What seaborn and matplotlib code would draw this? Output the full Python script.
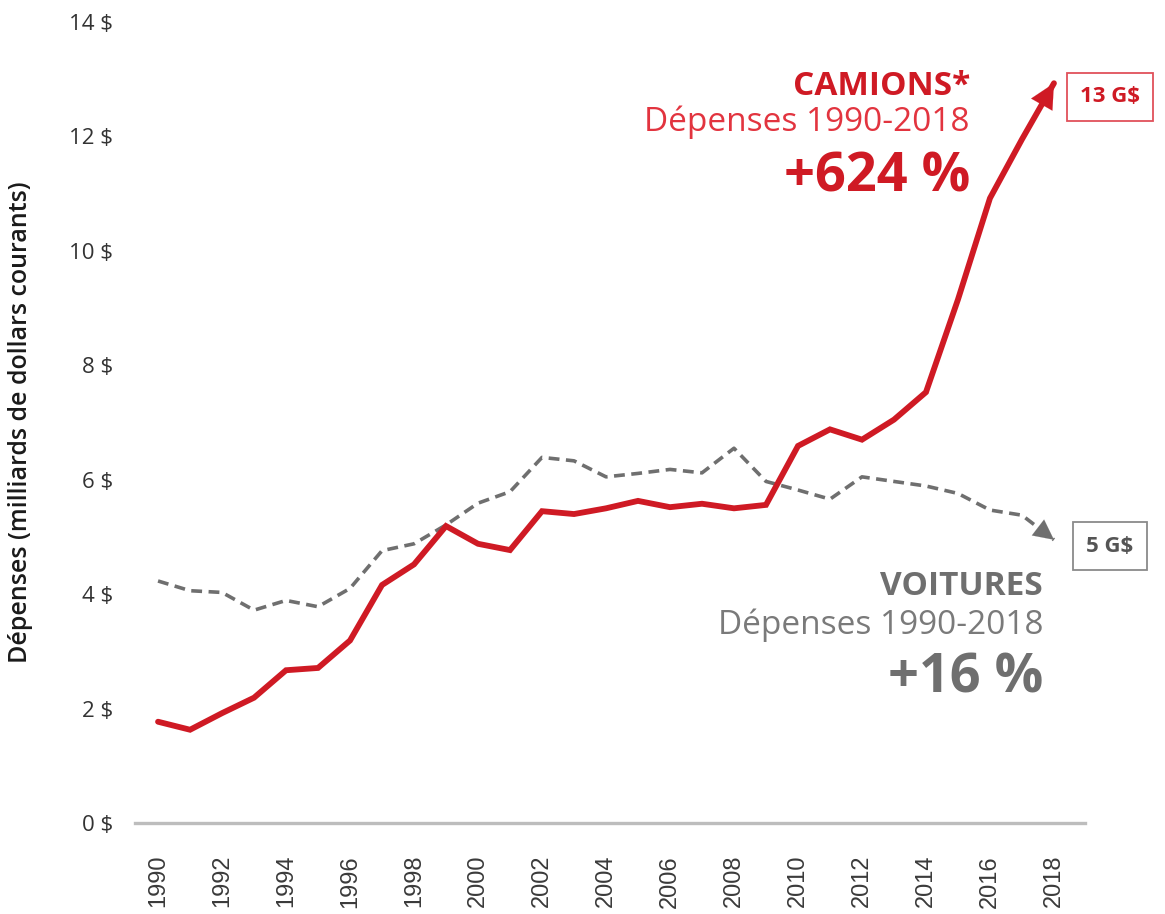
import matplotlib
matplotlib.use("Agg")
import matplotlib.pyplot as plt
import seaborn as sns

# Dépenses annuelles (milliards de dollars courants)
years = list(range(1990, 2019))
camions = [1.77, 1.63, 1.92, 2.19, 2.67, 2.71, 3.19, 4.16, 4.52, 5.19,
           4.88, 4.77, 5.45, 5.40, 5.50, 5.63, 5.52, 5.58, 5.50, 5.56,
           6.59, 6.88, 6.70, 7.05, 7.53, 9.15, 10.92, 11.95, 12.93]
voitures = [4.23, 4.06, 4.03, 3.72, 3.89, 3.78, 4.10, 4.76, 4.88, 5.21,
            5.59, 5.79, 6.39, 6.33, 6.05, 6.11, 6.18, 6.12, 6.55, 5.97,
            5.82, 5.66, 6.05, 5.97, 5.89, 5.76, 5.47, 5.38, 4.95]
y_ticks = [0, 2, 4, 6, 8, 10, 12, 14]
y_tick_labels = [f"{v} $" for v in y_ticks]
x_ticks = list(range(1990, 2019, 2))

RED = "#cf1a24"
RED_LIGHT = "#e2343f"
GREY = "#6f6f6f"

sns.set_style("white")
plt.rcParams["font.family"] = ["Open Sans", "DejaVu Sans"]

fig = plt.figure(figsize=(11.65, 9.14), dpi=100)
ax = fig.add_axes([135 / 1165, 91 / 914, 950 / 1165, 801 / 914])

sns.lineplot(x=years, y=voitures, ax=ax, color=GREY, linewidth=2.6,
             linestyle=(0, (3.0, 1.8)))
sns.lineplot(x=years, y=camions, ax=ax, color=RED, linewidth=4.2,
             solid_joinstyle="miter")

# arrowheads at the last point of each series
def end_arrow(vals, color, scale):
    f = 0.35
    x0 = years[-1] - f * (years[-1] - years[-2])
    y0 = vals[-1] - f * (vals[-1] - vals[-2])
    ax.annotate("", xy=(years[-1], vals[-1]), xytext=(x0, y0),
                arrowprops=dict(arrowstyle="-|>", color=color, lw=0.1,
                                mutation_scale=scale, shrinkA=0, shrinkB=0))

end_arrow(camions, RED, 44)
end_arrow(voitures, GREY, 36)

ax.set_xlim(1989.28, 2018.97)
ax.set_ylim(0, 14)
ax.set_yticks(y_ticks)
ax.set_yticklabels(y_tick_labels, fontsize=16, color="#333333")
ax.set_xticks(x_ticks)
ax.set_xticklabels([str(y) for y in x_ticks], rotation=90, fontsize=17,
                   color="#3a3a3a", family="Liberation Sans")
ax.tick_params(axis="both", length=0)
ax.tick_params(axis="y", pad=16)
ax.tick_params(axis="x", pad=23)

for side in ["top", "right", "left"]:
    ax.spines[side].set_visible(False)
ax.spines["bottom"].set_color("#bdbdbd")
ax.spines["bottom"].set_linewidth(2.4)

ax.set_ylabel("Dépenses (milliards de dollars courants)", fontsize=18,
              fontweight="semibold", color="#1a1a1a")
ax.yaxis.set_label_coords(-0.107, 0.5)

# annotations camions
ax.text(2015.375, 12.88, "CAMIONS*", ha="right", va="center", fontsize=24,
        fontweight="bold", color=RED)
ax.text(2015.375, 12.24, "Dépenses 1990-2018", ha="right", va="center",
        fontsize=24, color=RED_LIGHT)
ax.text(2015.375, 11.29, "+624 %", ha="right", va="center", fontsize=39,
        fontweight="bold", color=RED)

# annotations voitures
ax.text(2017.66, 4.14, "VOITURES", ha="right", va="center", fontsize=24,
        fontweight="bold", color=GREY)
ax.text(2017.66, 3.46, "Dépenses 1990-2018", ha="right", va="center",
        fontsize=24, color="#7a7a7a")
ax.text(2017.66, 2.53, "+16 %", ha="right", va="center", fontsize=39,
        fontweight="bold", color=GREY)

# value boxes
ax.text(2019.75, 12.69, "13 G$", ha="center", va="center", fontsize=16,
        fontweight="bold", color=RED, clip_on=False,
        bbox=dict(boxstyle="square,pad=0.6", fc="white", ec="#e0505a", lw=1.3))
ax.text(2019.75, 4.84, "5 G$", ha="center", va="center", fontsize=16,
        fontweight="bold", color="#555555", clip_on=False,
        bbox=dict(boxstyle="square,pad=0.6", fc="white", ec="#8a8a8a", lw=1.3))

fig.savefig("out.png", dpi=100)
